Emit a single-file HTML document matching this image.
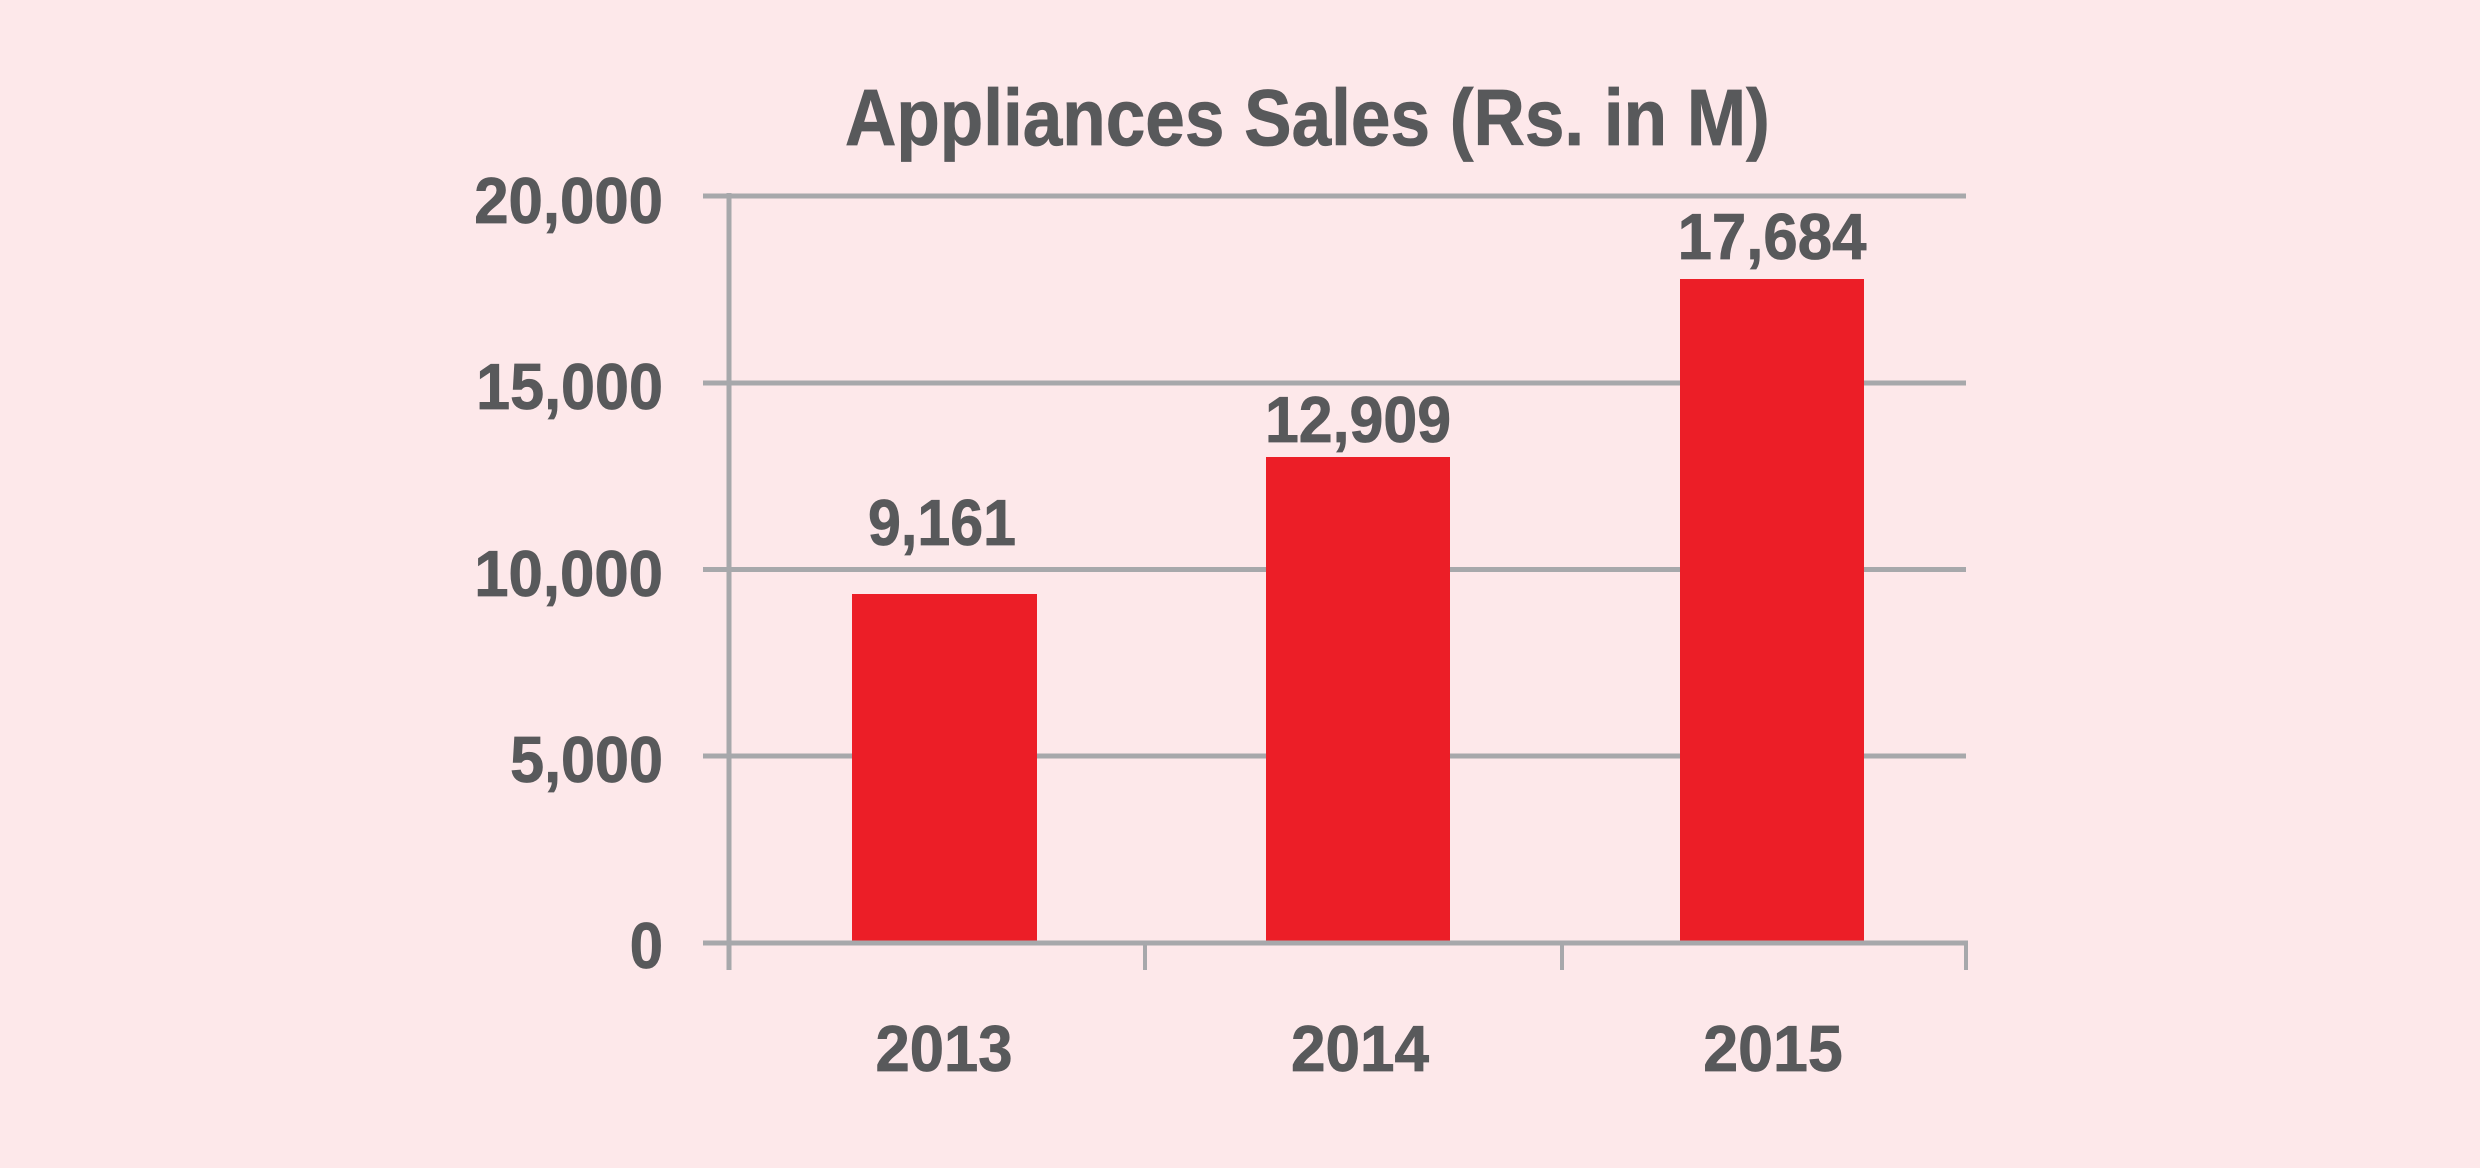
<!DOCTYPE html>
<html>
<head>
<meta charset="utf-8">
<style>
  html, body { margin: 0; padding: 0; background: #fde8ea; }
  svg { display: block; }
  text { font-family: "Liberation Sans", Arial, sans-serif; font-weight: bold; fill: #58595b; stroke: #58595b; stroke-width: 0.8; }
</style>
</head>
<body>
<svg width="2480" height="1168" viewBox="0 0 2480 1168" xmlns="http://www.w3.org/2000/svg">
  <rect x="0" y="0" width="2480" height="1168" fill="#fde8ea"/>

  <!-- Title -->
  <text transform="translate(845,145) scale(0.889,1)" x="0" y="0" font-size="80">Appliances Sales (Rs. in M)</text>

  <!-- Gridlines -->
  <g stroke="#a7a8ab" stroke-width="5">
    <line x1="703" y1="196" x2="1966" y2="196"/>
    <line x1="703" y1="383" x2="1966" y2="383"/>
    <line x1="703" y1="569.5" x2="1966" y2="569.5"/>
    <line x1="703" y1="756" x2="1966" y2="756"/>
  </g>

  <!-- Y axis labels -->
  <g font-size="65" text-anchor="end">
    <text transform="translate(663,223) scale(0.95,1)">20,000</text>
    <text transform="translate(663,409) scale(0.94,1)">15,000</text>
    <text transform="translate(663,596) scale(0.95,1)">10,000</text>
    <text transform="translate(663,782) scale(0.94,1)">5,000</text>
    <text transform="translate(663,968) scale(0.92,1)">0</text>
  </g>

  <!-- Bars -->
  <g fill="#ec1e27">
    <rect x="852" y="594" width="185" height="349"/>
    <rect x="1266" y="457" width="184" height="486"/>
    <rect x="1680" y="279" width="184" height="664"/>
  </g>

  <!-- Axes -->
  <g stroke="#a7a8ab">
    <line x1="729" y1="193" x2="729" y2="970" stroke-width="5"/>
    <line x1="703" y1="943" x2="1968" y2="943" stroke-width="5"/>
    <line x1="1145" y1="943" x2="1145" y2="970" stroke-width="4"/>
    <line x1="1562" y1="943" x2="1562" y2="970" stroke-width="4"/>
    <line x1="1966" y1="941" x2="1966" y2="970" stroke-width="4"/>
  </g>

  <!-- Data labels -->
  <g font-size="65" text-anchor="middle">
    <text transform="translate(942,545) scale(0.91,1)">9,161</text>
    <text transform="translate(1358,442) scale(0.936,1)">12,909</text>
    <text transform="translate(1772,259) scale(0.95,1)">17,684</text>
  </g>

  <!-- X axis labels -->
  <g font-size="65" text-anchor="middle">
    <text transform="translate(944,1071) scale(0.947,1)">2013</text>
    <text transform="translate(1360,1071) scale(0.955,1)">2014</text>
    <text transform="translate(1773,1071) scale(0.965,1)">2015</text>
  </g>
</svg>
</body>
</html>
